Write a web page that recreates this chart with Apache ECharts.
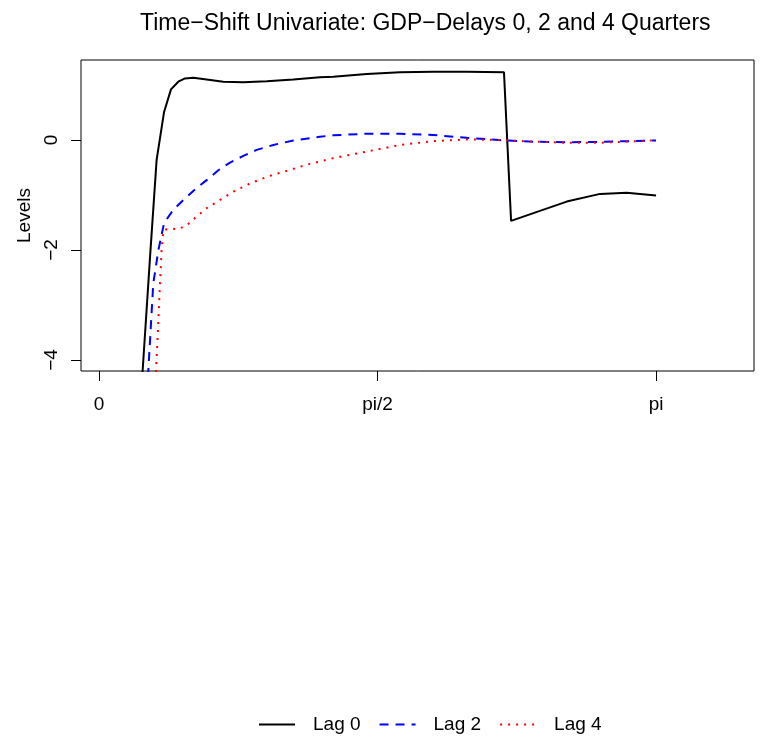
<!DOCTYPE html>
<html>
<head>
<meta charset="utf-8">
<script src="https://cdn.jsdelivr.net/npm/echarts@6/dist/echarts.min.js"></script>
<style>
html,body{margin:0;padding:0;background:#fff;}
#chart{width:763px;height:745px;}
</style>
</head>
<body>
<div id="chart"></div>
<script>
// x positions in radians (0 .. pi)
const lag0X = [0.23, 0.246, 0.288, 0.325, 0.367, 0.406, 0.447, 0.485, 0.532, 0.607, 0.701, 0.814, 0.946, 1.096, 1.246, 1.321, 1.510, 1.698, 1.886, 2.074, 2.284, 2.324, 2.450, 2.638, 2.826, 2.976, 3.1416];
const lag0Y = [-5.0, -4.2, -2.12, -0.36, 0.51, 0.92, 1.06, 1.12, 1.13, 1.10, 1.06, 1.05, 1.07, 1.10, 1.14, 1.15, 1.20, 1.23, 1.24, 1.24, 1.23, -1.47, -1.33, -1.12, -0.98, -0.96, -1.01];

const lag2X = [0.27, 0.278, 0.306, 0.335, 0.367, 0.419, 0.476, 0.541, 0.607, 0.673, 0.739, 0.814, 0.889, 0.983, 1.096, 1.246, 1.321, 1.510, 1.698, 1.886, 2.074, 2.299, 2.450, 2.638, 2.826, 3.108, 3.1416];
const lag2Y = [-4.6, -4.2, -2.61, -2.0, -1.51, -1.27, -1.09, -0.90, -0.73, -0.55, -0.41, -0.29, -0.18, -0.09, -0.01, 0.06, 0.085, 0.115, 0.115, 0.09, 0.04, -0.01, -0.03, -0.04, -0.035, -0.01, -0.01];

const lag4X = [0.315, 0.321, 0.329, 0.344, 0.353, 0.363, 0.400, 0.447, 0.495, 0.551, 0.607, 0.682, 0.757, 0.852, 0.946, 1.059, 1.171, 1.321, 1.510, 1.698, 1.886, 2.074, 2.262, 2.450, 2.638, 2.826, 3.108, 3.1416];
const lag4Y = [-4.8, -4.2, -3.70, -2.61, -2.0, -1.64, -1.61, -1.62, -1.55, -1.39, -1.24, -1.09, -0.94, -0.79, -0.67, -0.56, -0.45, -0.33, -0.21, -0.09, -0.02, 0.01, 0.0, -0.03, -0.05, -0.05, -0.01, -0.01];

const seriesNames = ['Lag 0', 'Lag 2', 'Lag 4'];
const xTickValues = [0, Math.PI / 2, Math.PI];
const xTickLabels = ['0', 'pi/2', 'pi'];
const yTickValues = [-4, -2, 0];
const yTickLabels = ['\u22124', '\u22122', '0'];
const titleText = 'Time\u2212Shift Univariate: GDP\u2212Delays 0, 2 and 4 Quarters';
const yName = 'Levels';

const zip = (xs, ys) => xs.map((x, i) => [x, ys[i]]);
const FONT = 'Liberation Sans, Arial, Helvetica, sans-serif';

const chart = echarts.init(document.getElementById('chart'), null, {renderer: 'canvas'});
chart.setOption({
  animation: false,
  backgroundColor: '#fff',
  title: {
    text: titleText,
    left: 135, top: 7,
    textStyle: {fontFamily: FONT, fontSize: 23, fontWeight: 'normal', color: '#000'}
  },
  legend: {
    data: seriesNames,
    bottom: 6,
    left: 253,
    orient: 'horizontal',
    itemWidth: 36,
    itemHeight: 14,
    itemGap: 18,
    itemStyle: {opacity: 0},
    textStyle: {fontFamily: FONT, fontSize: 19, color: '#000', padding: [0, 0, 0, 13]}
  },
  grid: {
    left: 81, right: 9, top: 60, bottom: 374,
    show: true, borderColor: '#000', borderWidth: 1, backgroundColor: 'transparent',
    containLabel: false
  },
  xAxis: {
    type: 'value',
    min: -0.1015, max: 3.694,
    axisLine: {show: false, onZero: false},
    splitLine: {show: false},
    axisTick: {show: true, inside: false, length: 10, customValues: xTickValues, lineStyle: {color: '#000', width: 1}},
    axisLabel: {
      customValues: xTickValues,
      margin: 24,
      fontFamily: FONT, fontSize: 19, color: '#000',
      formatter: v => {
        const i = xTickValues.findIndex(t => Math.abs(t - v) < 1e-6);
        return i >= 0 ? xTickLabels[i] : '';
      }
    }
  },
  yAxis: {
    type: 'value',
    min: -4.2, max: 1.4545,
    name: yName,
    nameLocation: 'middle',
    nameRotate: 90,
    nameGap: 47,
    nameTextStyle: {fontFamily: FONT, fontSize: 19, color: '#000'},
    axisLine: {show: false, onZero: false},
    splitLine: {show: false},
    axisTick: {show: true, inside: false, length: 10, customValues: yTickValues, lineStyle: {color: '#000', width: 1}},
    axisLabel: {
      customValues: yTickValues,
      rotate: 90,
      margin: 20,
      fontFamily: FONT, fontSize: 19, color: '#000',
      formatter: v => {
        const i = yTickValues.findIndex(t => Math.abs(t - v) < 1e-6);
        return i >= 0 ? yTickLabels[i] : '';
      }
    }
  },
  series: [
    {
      name: seriesNames[0], type: 'line', data: zip(lag0X, lag0Y),
      showSymbol: false, symbol: 'none', clip: true, smooth: false,
      lineStyle: {color: '#000', width: 2, type: 'solid'},
      itemStyle: {color: '#000'}
    },
    {
      name: seriesNames[1], type: 'line', data: zip(lag2X, lag2Y),
      showSymbol: false, symbol: 'none', clip: true,
      lineStyle: {color: '#0000ff', width: 2, type: [9, 7]},
      itemStyle: {color: '#0000ff'}
    },
    {
      name: seriesNames[2], type: 'line', data: zip(lag4X, lag4Y),
      showSymbol: false, symbol: 'none', clip: true,
      lineStyle: {color: '#ff0000', width: 2, type: [2, 6]},
      itemStyle: {color: '#ff0000'}
    }
  ]
});
</script>
</body>
</html>
